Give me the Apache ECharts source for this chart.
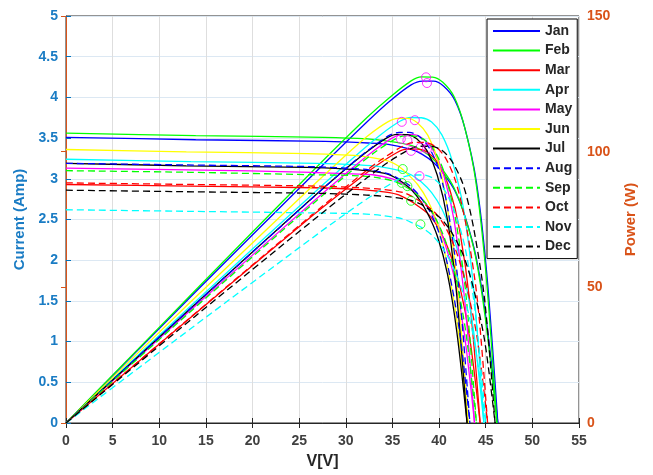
<!DOCTYPE html>
<html>
<head>
<meta charset="utf-8">
<script src="https://cdn.jsdelivr.net/npm/echarts@6/dist/echarts.min.js"></script>
<style>
html, body { margin: 0; padding: 0; background: #fff; }
#main { width: 653px; height: 475px; }
</style>
</head>
<body>
<div id="main"></div>
<script>
var months = ['Jan', 'Feb', 'Mar', 'Apr', 'May', 'Jun', 'Jul', 'Aug', 'Sep', 'Oct', 'Nov', 'Dec'];

// voltage points of each month's curves (V)
var voltage = {
    Jan: [0, 13.9, 27.8, 32.4, 34.7, 37.0, 38.2, 39.4, 40.5, 41.7, 42.8, 44.0, 45.1, 46.3],
    Feb: [0, 13.9, 27.7, 32.3, 34.7, 37.0, 38.1, 39.3, 40.4, 41.6, 42.7, 43.9, 45.0, 46.2],
    Mar: [0, 13.3, 26.6, 31.1, 33.3, 35.5, 36.6, 37.7, 38.9, 40.0, 41.1, 42.2, 43.3, 44.4],
    Apr: [0, 13.4, 26.9, 31.4, 33.6, 35.8, 37.0, 38.1, 39.2, 40.3, 41.4, 42.6, 43.7, 44.8],
    May: [0, 13.1, 26.3, 30.7, 32.9, 35.0, 36.1, 37.2, 38.3, 39.4, 40.5, 41.6, 42.7, 43.8],
    Jun: [0, 12.9, 25.9, 30.2, 32.3, 34.5, 35.6, 36.6, 37.7, 38.8, 39.9, 40.9, 42.0, 43.1],
    Jul: [0, 12.9, 25.8, 30.1, 32.3, 34.4, 35.5, 36.6, 37.6, 38.7, 39.8, 40.9, 41.9, 43.0],
    Aug: [0, 13.0, 26.0, 30.3, 32.5, 34.6, 35.7, 36.8, 37.9, 39.0, 40.1, 41.1, 42.2, 43.3],
    Sep: [0, 13.2, 26.4, 30.8, 33.0, 35.2, 36.3, 37.4, 38.5, 39.6, 40.7, 41.8, 42.9, 44.0],
    Oct: [0, 13.6, 27.1, 31.6, 33.9, 36.2, 37.3, 38.4, 39.6, 40.7, 41.8, 42.9, 44.1, 45.2],
    Nov: [0, 13.5, 27.0, 31.5, 33.8, 36.0, 37.1, 38.3, 39.4, 40.5, 41.6, 42.8, 43.9, 45.0],
    Dec: [0, 13.8, 27.6, 32.2, 34.5, 36.8, 38.0, 39.1, 40.3, 41.4, 42.6, 43.7, 44.9, 46.0]
};

// I-V curves (A)
var current = {
    Jan: [3.51, 3.48, 3.46, 3.44, 3.42, 3.36, 3.30, 3.20, 3.06, 2.85, 2.53, 2.02, 1.23, 0],
    Feb: [3.56, 3.53, 3.51, 3.49, 3.46, 3.41, 3.35, 3.25, 3.11, 2.89, 2.56, 2.05, 1.25, 0],
    Mar: [2.93, 2.91, 2.89, 2.87, 2.85, 2.81, 2.75, 2.67, 2.56, 2.38, 2.11, 1.69, 1.03, 0],
    Apr: [3.24, 3.21, 3.19, 3.17, 3.15, 3.10, 3.05, 2.96, 2.83, 2.63, 2.33, 1.86, 1.13, 0],
    May: [3.13, 3.11, 3.08, 3.06, 3.05, 3.00, 2.94, 2.86, 2.73, 2.55, 2.25, 1.80, 1.10, 0],
    Jun: [3.36, 3.33, 3.31, 3.29, 3.27, 3.22, 3.16, 3.06, 2.93, 2.73, 2.42, 1.93, 1.18, 0],
    Jul: [3.19, 3.16, 3.14, 3.12, 3.10, 3.06, 3.00, 2.91, 2.79, 2.59, 2.30, 1.83, 1.12, 0],
    Aug: [3.19, 3.17, 3.15, 3.13, 3.11, 3.06, 3.00, 2.92, 2.79, 2.60, 2.30, 1.84, 1.12, 0],
    Sep: [3.10, 3.08, 3.05, 3.04, 3.02, 2.97, 2.91, 2.83, 2.71, 2.52, 2.23, 1.78, 1.09, 0],
    Oct: [2.95, 2.93, 2.91, 2.89, 2.87, 2.83, 2.77, 2.69, 2.58, 2.40, 2.12, 1.70, 1.03, 0],
    Nov: [2.62, 2.60, 2.58, 2.57, 2.55, 2.51, 2.46, 2.39, 2.29, 2.13, 1.89, 1.51, 0.92, 0],
    Dec: [2.86, 2.84, 2.82, 2.80, 2.78, 2.74, 2.69, 2.61, 2.50, 2.33, 2.06, 1.65, 1.00, 0]
};

// P-V curves (W)
var power = {
    Jan: [0, 48.4, 96.0, 111.4, 118.6, 124.6, 126.0, 126.0, 124.1, 118.9, 108.2, 88.8, 55.5, 0],
    Feb: [0, 49.0, 97.2, 112.7, 120.0, 126.1, 127.6, 127.5, 125.6, 120.3, 109.5, 89.9, 56.1, 0],
    Mar: [0, 38.7, 76.9, 89.2, 94.9, 99.7, 100.9, 100.9, 99.4, 95.2, 86.6, 71.1, 44.4, 0],
    Apr: [0, 43.2, 85.8, 99.5, 105.9, 111.2, 112.6, 112.5, 110.9, 106.2, 96.7, 79.3, 49.5, 0],
    May: [0, 40.8, 81.0, 94.0, 100.1, 105.1, 106.3, 106.3, 104.7, 100.3, 91.3, 74.9, 46.8, 0],
    Jun: [0, 43.1, 85.6, 99.3, 105.7, 111.0, 112.3, 112.3, 110.6, 106.0, 96.5, 79.1, 49.4, 0],
    Jul: [0, 40.8, 81.1, 94.0, 100.1, 105.1, 106.4, 106.3, 104.8, 100.4, 91.4, 74.9, 46.8, 0],
    Aug: [0, 41.1, 81.6, 94.7, 100.8, 105.9, 107.1, 107.1, 105.5, 101.1, 92.0, 75.5, 47.1, 0],
    Sep: [0, 40.6, 80.6, 93.5, 99.5, 104.5, 105.8, 105.7, 104.2, 99.8, 90.8, 74.5, 46.6, 0],
    Oct: [0, 39.7, 78.8, 91.4, 97.3, 102.2, 103.4, 103.4, 101.9, 97.6, 88.8, 72.8, 45.5, 0],
    Nov: [0, 35.1, 69.7, 80.8, 86.0, 90.4, 91.4, 91.4, 90.1, 86.3, 78.5, 64.4, 40.2, 0],
    Dec: [0, 39.2, 77.8, 90.2, 96.0, 100.8, 102.0, 102.0, 100.5, 96.3, 87.6, 71.9, 44.9, 0]
};

// maximum power points marked in the plot
var mppPower = [[38.6, 127.4], [38.7, 125.3], [36.0, 111.0], [37.4, 111.6], [35.9, 104.7],
    [36.6, 104.2], [37.0, 100.3], [38.0, 101.5], [38.7, 101.1], [37.9, 91.0]];
var mppCurrent = [[36.1, 3.12], [36.0, 2.95], [36.6, 2.91], [37.0, 2.73], [38.0, 2.44]];

var colors = ['#0000ff', '#00ff00', '#ff0000', '#00ffff', '#ff00ff', '#ffff00', '#000000',
    '#0000ff', '#00ff00', '#ff0000', '#00ffff', '#000000'];

var leftColor = '#0072BD';
var rightColor = '#D95319';

function pairs(xs, ys) {
    return xs.map(function (x, j) { return [x, ys[j]]; });
}

var series = [];
months.forEach(function (m, k) {
    var style = {
        color: colors[k],
        width: 1.3,
        type: k >= 7 ? [7, 4] : 'solid'
    };
    series.push({
        name: m, type: 'line', yAxisIndex: 0,
        data: pairs(voltage[m], current[m]),
        symbol: 'none', smooth: 0.3, lineStyle: style,
        itemStyle: { color: colors[k] }
    });
    series.push({
        name: m, type: 'line', yAxisIndex: 1,
        data: pairs(voltage[m], power[m]),
        symbol: 'none', smooth: 0.3, lineStyle: style,
        itemStyle: { color: colors[k] }
    });
});
series.push({
    type: 'scatter', yAxisIndex: 1, data: mppPower, symbolSize: 9, z: 5,
    itemStyle: { color: 'rgba(0,0,0,0)', borderColor: '#ff00ff', borderWidth: 1 }
});
series.push({
    type: 'scatter', yAxisIndex: 0, data: mppCurrent, symbolSize: 9, z: 5,
    itemStyle: { color: 'rgba(0,0,0,0)', borderColor: '#00ff00', borderWidth: 1 }
});

var myChart = echarts.init(document.getElementById('main'));
option = {
    animation: false,
    backgroundColor: '#fff',
    grid: {
        left: 66, right: 74, top: 16, bottom: 52,
        show: true, borderColor: '#262626', borderWidth: 1
    },
    legend: {
        orient: 'vertical',
        left: 487, top: 19,
        data: months,
        itemWidth: 47, itemHeight: 14, itemGap: 5.6,
        padding: [5, 5, 5, 5],
        backgroundColor: '#fff',
        borderColor: '#000', borderWidth: 1,
        itemStyle: { opacity: 0 },
        textStyle: { fontFamily: 'Liberation Sans', fontSize: 14, fontWeight: 'bold', color: '#262626' }
    },
    xAxis: [
        {
            type: 'value', min: 0, max: 55, interval: 5, position: 'bottom',
            name: 'V[V]', nameLocation: 'middle', nameGap: 31,
            nameTextStyle: { fontFamily: 'Liberation Sans', fontSize: 16, fontWeight: 'bold', color: '#262626' },
            axisLine: { show: true, lineStyle: { color: '#262626' } },
            axisTick: { show: true, inside: true, length: 5, lineStyle: { color: '#262626' } },
            axisLabel: { fontFamily: 'Liberation Sans', fontSize: 14, fontWeight: 'bold', color: '#404040', margin: 11 },
            splitLine: { show: true, lineStyle: { color: '#dedede' } }
        },
        {
            type: 'value', min: 0, max: 55, interval: 5, position: 'top',
            axisLine: { show: true, lineStyle: { color: '#262626' } },
            axisTick: { show: true, inside: true, length: 5, lineStyle: { color: '#262626' } },
            axisLabel: { show: false },
            splitLine: { show: false }
        }
    ],
    yAxis: [
        {
            type: 'value', min: 0, max: 5, interval: 0.5, position: 'left',
            name: 'Current (Amp)', nameLocation: 'middle', nameGap: 38, nameRotate: 90,
            nameTextStyle: { fontFamily: 'Liberation Sans', fontSize: 15, fontWeight: 'bold', color: '#1a7cc4' },
            axisLine: { show: true, lineStyle: { color: leftColor } },
            axisTick: { show: true, inside: true, length: 5, lineStyle: { color: leftColor } },
            axisLabel: { fontFamily: 'Liberation Sans', fontSize: 14, fontWeight: 'bold', color: '#1a7cc4', margin: 8 },
            splitLine: { show: true, lineStyle: { color: '#dce8f3' } }
        },
        {
            type: 'value', min: 0, max: 150, interval: 50, position: 'right',
            name: 'Power (W)', nameLocation: 'middle', nameGap: 44, nameRotate: 90,
            nameTextStyle: { fontFamily: 'Liberation Sans', fontSize: 15, fontWeight: 'bold', color: rightColor },
            axisLine: { show: true, lineStyle: { color: rightColor } },
            axisTick: { show: true, inside: true, length: 5, lineStyle: { color: rightColor } },
            axisLabel: { fontFamily: 'Liberation Sans', fontSize: 14, fontWeight: 'bold', color: rightColor, margin: 8 },
            splitLine: { show: false }
        }
    ],
    series: series
};
myChart.setOption(option);
</script>
</body>
</html>
